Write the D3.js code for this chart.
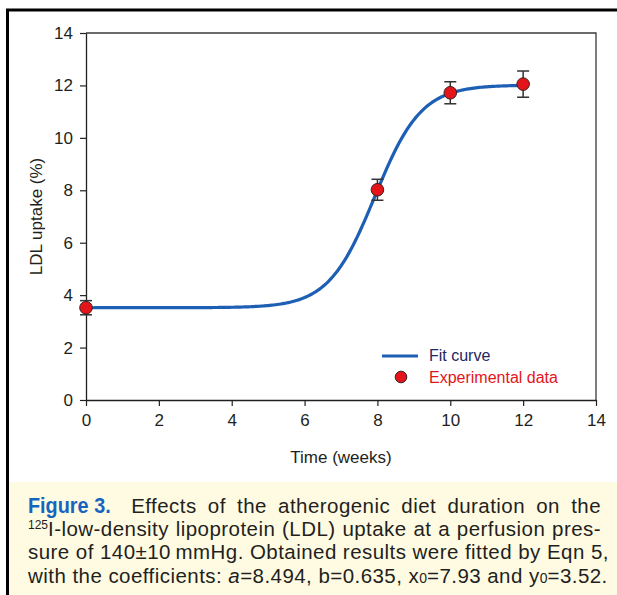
<!DOCTYPE html>
<html>
<head>
<meta charset="utf-8">
<title>LDL uptake vs time</title>
<script src="https://cdn.jsdelivr.net/npm/d3@7/dist/d3.min.js"></script>
<style>
  body { margin: 0; background: #fff; }
  #wrap { position: relative; width: 617px; height: 595px; overflow: hidden; }
  #caption {
    position: absolute; left: 9px; top: 482px; width: 608px; height: 113px;
    background: #fffbe3; font-family: "Liberation Sans", Arial, sans-serif;
    font-size: 20.5px; color: #231f20;
  }
  .ln {
    position: absolute; left: 19px; width: 573px; text-align: justify; text-align-last: justify;
    white-space: nowrap; line-height: 23px; letter-spacing: 0.45px;
  }
  .fig { display: inline-block; width: 92px; font-size: 22px; letter-spacing: 0; font-weight: bold; color: #1565c0; transform: scaleX(0.9); transform-origin: 0 0; }
  sup { font-size: 12px; line-height: 0; vertical-align: 7px; letter-spacing: 0; }
  .sub { font-size: 14px; letter-spacing: 0; }
</style>
</head>
<body>
<div id="wrap">
  <svg id="chart" width="617" height="595"></svg>
  <div id="caption">
    <div class="ln" style="top:12px"><span class="fig">Figure 3.</span> Effects of the atherogenic diet duration on the</div>
    <div class="ln" style="top:35px"><sup>125</sup>I-low-density lipoprotein (LDL) uptake at a perfusion pres-</div>
    <div class="ln" style="top:58px">sure of 140±10&#8201;mmHg. Obtained results were fitted by Eqn 5,</div>
    <div class="ln" style="top:82px">with the coefficients: <i>a</i>=8.494, b=0.635, x<span class="sub">0</span>=7.93 and y<span class="sub">0</span>=3.52.</div>
  </div>
</div>
<script>
// experimental data
const weeks = [0, 8, 10, 12];
const uptake = [3.52, 8.02, 11.72, 12.05];
const errors = [0.27, 0.4, 0.42, 0.5];
// fit coefficients from the caption (Eqn 5: y = y0 + a / (1 + exp(-(x - x0) / b)))
const fitCoef = [8.494, 0.635, 7.93, 3.52]; // a, b, x0, y0
const xTicks = [0, 2, 4, 6, 8, 10, 12, 14];
const yTicks = [0, 2, 4, 6, 8, 10, 12, 14];

const svg = d3.select("#chart");
const font = "'Liberation Sans', Arial, sans-serif";

// page frame
svg.append("path")
  .attr("d", "M7.5,595 L7.5,10 L617,10")
  .attr("fill", "none").attr("stroke", "#000").attr("stroke-width", 3);

const x = d3.scaleLinear().domain([0, 14]).range([86, 596]);
const y = d3.scaleLinear().domain([0, 14]).range([400, 33]);

// frame top / right
svg.append("path")
  .attr("d", `M${x(0)},${y(14)} L${x(14)},${y(14)} L${x(14)},${y(0)}`)
  .attr("fill", "none").attr("stroke", "#3a3a3a").attr("stroke-width", 1.3);

const xAxis = svg.append("g")
  .attr("transform", `translate(0,${y(0)})`)
  .call(d3.axisBottom(x).tickValues(xTicks).tickSize(6).tickPadding(8).tickSizeOuter(0));
const yAxis = svg.append("g")
  .attr("transform", `translate(${x(0)},0)`)
  .call(d3.axisLeft(y).tickValues(yTicks).tickSize(6).tickPadding(7).tickSizeOuter(0));

[xAxis, yAxis].forEach(a => {
  a.attr("font-size", 17).attr("font-family", font);
  a.select(".domain").attr("stroke", "#231f20").attr("stroke-width", 1.3);
  a.selectAll(".tick line").attr("stroke", "#231f20").attr("stroke-width", 1.2);
  a.selectAll("text").attr("fill", "#231f20");
});

// axis titles
svg.append("text")
  .attr("x", x(7)).attr("y", 463)
  .attr("text-anchor", "middle").style("font-family", font).style("font-size", "17px").attr("fill", "#231f20")
  .text("Time (weeks)");
svg.append("text")
  .attr("transform", `translate(42,${y(7)}) rotate(-90)`)
  .attr("text-anchor", "middle").style("font-family", font).style("font-size", "17px").attr("fill", "#231f20")
  .text("LDL uptake (%)");

// fit curve
const [a, b, x0, y0] = fitCoef;
const fitX = d3.range(0, 12.001, 0.05);
const line = d3.line()
  .x(d => x(d))
  .y(d => y(y0 + a / (1 + Math.exp(-(d - x0) / b))));
svg.append("path")
  .datum(fitX)
  .attr("d", line)
  .attr("fill", "none").attr("stroke", "#1c5fb5").attr("stroke-width", 3.2);

// error bars
const eb = svg.append("g").attr("stroke", "#333").attr("stroke-width", 1.5);
weeks.forEach((w, i) => {
  const cx = x(w), top = y(uptake[i] + errors[i]), bot = y(uptake[i] - errors[i]);
  eb.append("line").attr("x1", cx).attr("x2", cx).attr("y1", top).attr("y2", bot);
  eb.append("line").attr("x1", cx - 6).attr("x2", cx + 6).attr("y1", top).attr("y2", top);
  eb.append("line").attr("x1", cx - 6).attr("x2", cx + 6).attr("y1", bot).attr("y2", bot);
});

// points
svg.append("g").selectAll("circle")
  .data(weeks)
  .join("circle")
  .attr("cx", d => x(d))
  .attr("cy", (d, i) => y(uptake[i]))
  .attr("r", 6.3)
  .attr("fill", "#e3151b").attr("stroke", "#3a2020").attr("stroke-width", 1);

// legend
const lg = svg.append("g");
lg.append("line").attr("x1", 382).attr("x2", 418).attr("y1", 356).attr("y2", 356)
  .attr("stroke", "#1c5fb5").attr("stroke-width", 3.2);
lg.append("text").attr("x", 429).attr("y", 361).style("font-family", font).style("font-size", "16px")
  .attr("fill", "#262660").text("Fit curve");
lg.append("circle").attr("cx", 401).attr("cy", 377).attr("r", 5.8)
  .attr("fill", "#e3151b").attr("stroke", "#3a2020").attr("stroke-width", 1);
lg.append("text").attr("x", 429).attr("y", 383).style("font-family", font).style("font-size", "16px")
  .attr("fill", "#e3151b").text("Experimental data");
</script>
</body>
</html>
